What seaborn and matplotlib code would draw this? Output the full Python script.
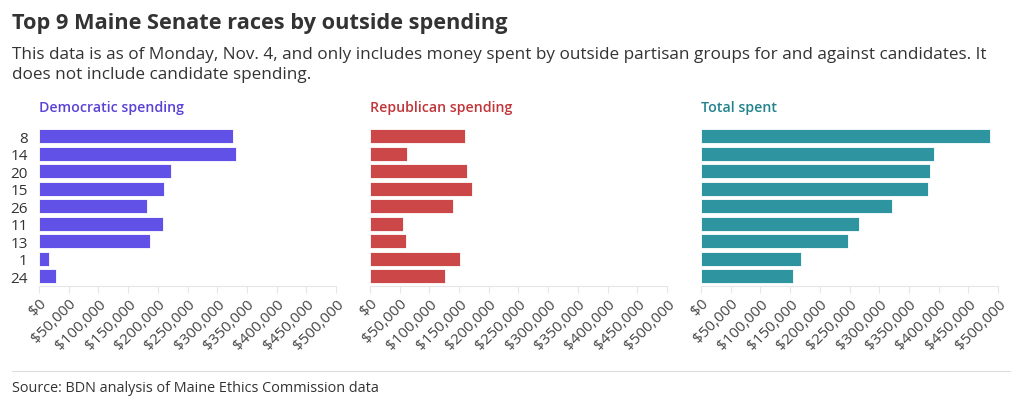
import matplotlib
matplotlib.use("Agg")
import matplotlib.pyplot as plt
import seaborn as sns
import pandas as pd
from matplotlib.ticker import FuncFormatter, MultipleLocator

districts = ["8", "14", "20", "15", "26", "11", "13", "1", "24"]
dem_spending = [327000, 331000, 222000, 210500, 181000, 209500, 187000, 17500, 29000]
rep_spending = [160000, 61500, 163000, 171000, 140000, 56000, 60000, 151500, 125500]
total_spent = [487000, 392000, 385000, 381500, 321000, 265500, 247000, 169000, 154500]

panel_titles = ["Democratic spending", "Republican spending", "Total spent"]
bar_colors = ["#6251e6", "#cc4848", "#2e95a0"]
title_colors = ["#5a43d6", "#c0363a", "#22838d"]

sns.set_theme(style="white")
plt.rcParams["font.family"] = ["Open Sans", "DejaVu Sans"]

fig = plt.figure(figsize=(10.2, 4.1), dpi=100)
W, H = 1020, 410

df = pd.DataFrame({"district": districts, "dem": dem_spending,
                   "rep": rep_spending, "total": total_spent})

lefts = [39, 370, 701]
axw = 297
ax_bottom = 287
ax_top = 128.25

for i, (col, ttl) in enumerate(zip(["dem", "rep", "total"], panel_titles)):
    ax = fig.add_axes([lefts[i] / W, 1 - ax_bottom / H, axw / W, (ax_bottom - ax_top) / H])
    sns.barplot(data=df, y="district", x=col, order=districts, color=bar_colors[i],
                width=0.8, edgecolor="#ffffff", linewidth=0.6, saturation=1, ax=ax)
    ax.set_xlim(0, 500000)
    ax.set_ylim(8.57, -0.5)
    ax.xaxis.set_major_locator(MultipleLocator(50000))
    ax.xaxis.set_major_formatter(FuncFormatter(lambda v, p: f"${int(v):,}"))
    for s in ["top", "right", "left"]:
        ax.spines[s].set_visible(False)
    ax.spines["bottom"].set_color("#e6e6e6")
    ax.spines["bottom"].set_linewidth(0.8)
    ax.tick_params(axis="x", which="major", length=5, color="#e6e6e6", width=0.8,
                   labelsize=11, labelcolor="#444444", pad=2, bottom=True)
    for lab in ax.get_xticklabels():
        lab.set_rotation(45)
        lab.set_ha("right")
        lab.set_rotation_mode("anchor")
    ax.set_xlabel("")
    ax.set_ylabel("")
    if i == 0:
        ax.tick_params(axis="y", length=0, labelsize=11, labelcolor="#333333", pad=8)
    else:
        ax.set_yticklabels([])
        ax.tick_params(axis="y", length=0)
    fig.text(lefts[i] / W, 1 - 108 / H, ttl, color=title_colors[i], fontsize=10.2,
             fontweight="semibold", va="center", ha="left")

fig.text(12 / W, 1 - 23 / H, "Top 9 Maine Senate races by outside spending",
         fontsize=15.7, fontweight="bold", color="#333333", va="center", ha="left")
fig.text(12 / W, 1 - 55 / H,
         "This data is as of Monday, Nov. 4, and only includes money spent by outside partisan groups for and against candidates. It",
         fontsize=12.3, color="#333333", va="center", ha="left")
fig.text(12 / W, 1 - 75 / H, "does not include candidate spending.",
         fontsize=12.3, color="#333333", va="center", ha="left")
fig.text(12 / W, 1 - 389 / H, "Source: BDN analysis of Maine Ethics Commission data",
         fontsize=10.4, color="#333333", va="center", ha="left")
fig.add_artist(plt.Line2D([12 / W, 1010 / W], [1 - 372 / H, 1 - 372 / H],
                          color="#dddddd", linewidth=0.8))

fig.savefig("out.png", dpi=100)
